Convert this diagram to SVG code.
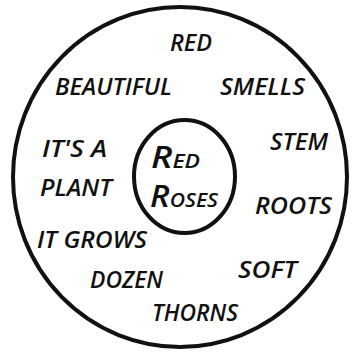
<svg xmlns="http://www.w3.org/2000/svg" width="354" height="356" viewBox="0 0 354 356">
<style>
.ring{fill:none;stroke:#111;stroke-width:4}
.t{font-family:"Open Sans","Noto Sans","Liberation Sans",sans-serif;font-style:italic;font-weight:600;font-size:24px;fill:#111}
.big{font-size:30px}
.sm{font-size:19px}
</style>
<rect width="354" height="356" fill="#fff"/>
<g id="outer-circle"><ellipse class="ring" cx="180" cy="177" rx="167" ry="170"/></g>
<g id="center">
<ellipse class="ring" cx="184.5" cy="176.5" rx="50.5" ry="56.5"/>
<text class="t" x="151" y="168" textLength="49" lengthAdjust="spacingAndGlyphs"><tspan class="big">R</tspan><tspan class="sm">ED</tspan></text>
<text class="t" x="150" y="207" textLength="68" lengthAdjust="spacingAndGlyphs"><tspan class="big">R</tspan><tspan class="sm">OSES</tspan></text>
</g>
<g id="red"><text class="t" x="170" y="51" textLength="42" lengthAdjust="spacingAndGlyphs">RED</text></g>
<g id="beautiful"><text class="t" x="55" y="95" textLength="117" lengthAdjust="spacingAndGlyphs">BEAUTIFUL</text></g>
<g id="smells"><text class="t" x="220" y="95" textLength="85" lengthAdjust="spacingAndGlyphs">SMELLS</text></g>
<g id="its-a-plant">
<text class="t" x="42" y="157" textLength="65" lengthAdjust="spacingAndGlyphs">IT'S A</text>
<text class="t" x="40" y="196" textLength="72" lengthAdjust="spacingAndGlyphs">PLANT</text>
</g>
<g id="stem"><text class="t" x="270" y="150" textLength="58" lengthAdjust="spacingAndGlyphs">STEM</text></g>
<g id="roots"><text class="t" x="255" y="214" textLength="77" lengthAdjust="spacingAndGlyphs">ROOTS</text></g>
<g id="it-grows"><text class="t" x="37" y="248" textLength="110" lengthAdjust="spacingAndGlyphs">IT GROWS</text></g>
<g id="soft"><text class="t" x="238" y="278" textLength="59" lengthAdjust="spacingAndGlyphs">SOFT</text></g>
<g id="dozen"><text class="t" x="90" y="288" textLength="73" lengthAdjust="spacingAndGlyphs">DOZEN</text></g>
<g id="thorns"><text class="t" x="152" y="321" textLength="86" lengthAdjust="spacingAndGlyphs">THORNS</text></g>
</svg>
